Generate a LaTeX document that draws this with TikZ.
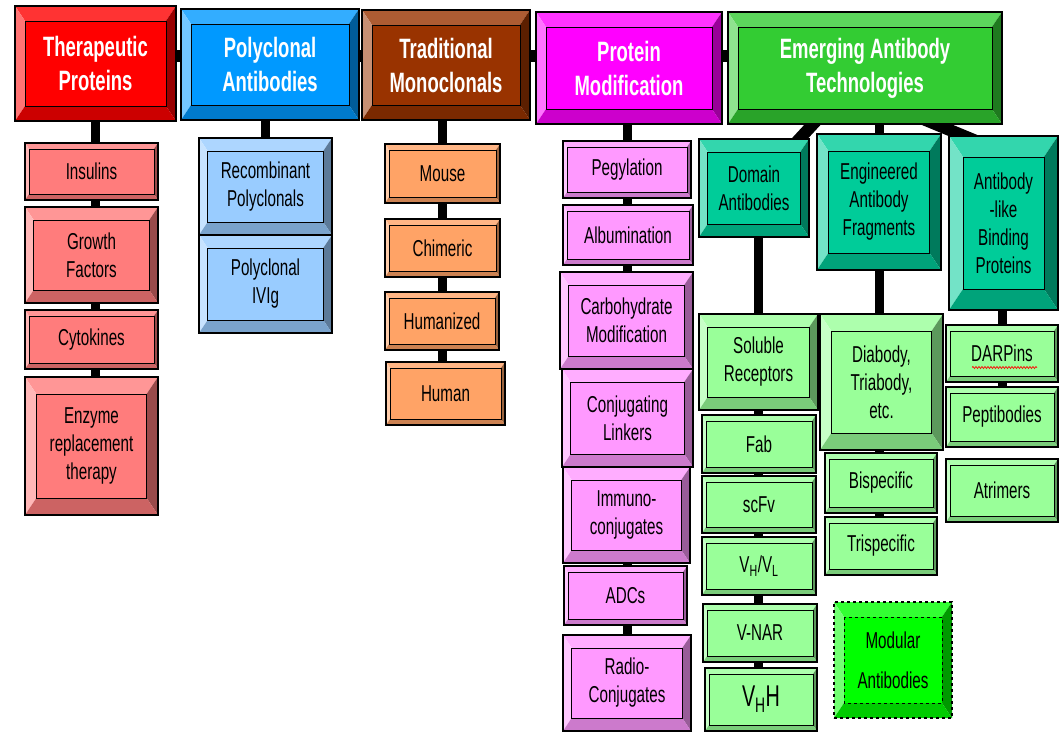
\documentclass[tikz,border=0pt]{standalone}
\usepackage{fontspec}
\setmainfont{Liberation Sans}[FakeStretch=0.66]
\usetikzlibrary{decorations.pathmorphing}
\pgfdeclarelayer{background}
\pgfsetlayers{background,main}
\definecolor{cRed}{HTML}{FF0000}
\definecolor{cRedL}{HTML}{FF7C7C}
\definecolor{cBlue}{HTML}{0099FF}
\definecolor{cBlueL}{HTML}{99CCFF}
\definecolor{cBrown}{HTML}{993300}
\definecolor{cOrL}{HTML}{FFA366}
\definecolor{cMag}{HTML}{FF00FF}
\definecolor{cMagL}{HTML}{FF99FF}
\definecolor{cGreen}{HTML}{33CC33}
\definecolor{cTeal}{HTML}{00CC99}
\definecolor{cGrL}{HTML}{99FF99}
\definecolor{cBright}{HTML}{00FF00}
\tikzset{
  conn/.style={line width=9pt, draw=black},
  hdrtxt/.style={font=\fontsize{28}{34}\selectfont\bfseries, text=white},
  subtxt/.style={font=\fontsize{23}{28}\selectfont, text=black},
  innerb/.style={draw=black, line width=0.8pt},
}
\newcommand\bbox[9]{%
  \pgfmathsetmacro\bbx{0.67*#6}%
  \fill[#7!80!white] (#2,#3) -- (#4,#3) -- ({#4-\bbx},{#3+#6}) -- ({#2+\bbx},{#3+#6}) -- cycle;
  \fill[#7!55!white] (#2,#3) -- ({#2+\bbx},{#3+#6}) -- ({#2+\bbx},{#5-#6}) -- (#2,#5) -- cycle;
  \fill[#7!60!black] (#4,#3) -- (#4,#5) -- ({#4-\bbx},{#5-#6}) -- ({#4-\bbx},{#3+#6}) -- cycle;
  \fill[#7!80!black] (#2,#5) -- (#4,#5) -- ({#4-\bbx},{#5-#6}) -- ({#2+\bbx},{#5-#6}) -- cycle;
  \path[innerb, fill=#7] ({#2+\bbx},{#3+#6}) rectangle ({#4-\bbx},{#5-#6});
  \node[draw=black, line width=1.2pt, inner sep=0pt, align=center,
        minimum width={(#4-#2)*1pt}, minimum height={(#5-#3)*1pt}, #8]
        (#1) at ({(#2+#4)/2},{(#3+#5)/2}) {#9};
}
\begin{document}
\begin{tikzpicture}[x=1pt,y=-1pt]
\useasboundingbox (0,0) rectangle (1059,732);
% headers
\bbox{hdr1}{15}{6}{176}{121}{15}{cRed}{hdrtxt}{Therapeutic\\Proteins}
\bbox{hdr2}{181}{9}{359}{120}{15}{cBlue}{hdrtxt}{Polyclonal\\Antibodies}
\bbox{hdr3}{362}{10}{530}{120}{15}{cBrown}{hdrtxt}{Traditional\\Monoclonals}
\bbox{hdr4}{536}{12}{722}{124}{15}{cMag}{hdrtxt}{Protein\\Modification}
\bbox{hdr5}{728}{12}{1002}{124}{15}{cGreen}{hdrtxt}{Emerging Antibody\\Technologies}
% column 1
\bbox{ins}{25}{143}{158}{200}{6}{cRedL}{subtxt}{Insulins}
\bbox{gro}{25}{207}{158}{303}{13}{cRedL}{subtxt}{Growth\\Factors}
\bbox{cyt}{25}{310}{158}{369}{6}{cRedL}{subtxt}{Cytokines}
\bbox{enz}{25}{377}{158}{515}{17}{cRedL}{subtxt}{Enzyme\\replacement\\therapy}
% column 2
\bbox{rec}{199}{138}{332}{235}{13}{cBlueL}{subtxt}{Recombinant\\Polyclonals}
\bbox{ivig}{199}{235}{332}{333}{13}{cBlueL}{subtxt}{Polyclonal\\IVIg}
% column 3
\bbox{mouse}{385}{144}{500}{203}{6}{cOrL}{subtxt}{Mouse}
\bbox{chim}{385}{219}{500}{277}{6}{cOrL}{subtxt}{Chimeric}
\bbox{hum}{385}{292}{499}{350}{6}{cOrL}{subtxt}{Humanized}
\bbox{human}{386}{362}{505}{425}{6}{cOrL}{subtxt}{Human}
% column 4
\bbox{peg}{563}{141}{691}{198}{6}{cMagL}{subtxt}{Pegylation}
\bbox{alb}{563}{205}{693}{265}{6}{cMagL}{subtxt}{Albumination}
\bbox{carb}{560}{272}{693}{369}{13}{cMagL}{subtxt}{Carbohydrate\\Modification}
\bbox{conj}{562}{369}{693}{467}{13}{cMagL}{subtxt}{Conjugating\\Linkers}
\bbox{immu}{563}{467}{690}{563}{13}{cMagL}{subtxt}{Immuno-\\conjugates}
\bbox{adc}{564}{566}{687}{625}{6}{cMagL}{subtxt}{ADCs}
\bbox{radio}{563}{635}{691}{731}{13}{cMagL}{subtxt}{Radio-\\Conjugates}
% emerging sub-headers
\bbox{dom}{699}{139}{809}{237}{13}{cTeal}{subtxt}{Domain\\Antibodies}
\bbox{eng}{817}{134}{941}{270}{17}{cTeal}{subtxt}{Engineered\\Antibody\\Fragments}
\bbox{abp}{949}{136}{1058}{310}{21}{cTeal}{subtxt}{Antibody\\-like\\Binding\\Proteins}
% domain column
\bbox{sol}{699}{314}{818}{410}{13}{cGrL}{subtxt}{Soluble\\Receptors}
\bbox{fab}{702}{415}{816}{473}{6}{cGrL}{subtxt}{Fab}
\bbox{scfv}{702}{476}{816}{533}{6}{cGrL}{subtxt}{scFv}
\bbox{vhvl}{702}{537}{816}{595}{6}{cGrL}{subtxt}{V\textsubscript{H}/V\textsubscript{L}}
\bbox{vnar}{703}{604}{817}{662}{6}{cGrL}{subtxt}{V-NAR}
\bbox{vh}{705}{668}{817}{731}{6}{cGrL}{subtxt, font=\fontsize{30}{34}\selectfont}{V\textsubscript{H}H}
% engineered column
\bbox{dia}{820}{314}{943}{450}{17}{cGrL}{subtxt}{Diabody,\\Triabody,\\etc.}
\bbox{bis}{825}{453}{937}{513}{6}{cGrL}{subtxt}{Bispecific}
\bbox{tri}{825}{517}{937}{575}{6}{cGrL}{subtxt}{Trispecific}
% antibody-like column
\bbox{darp}{946}{325}{1058}{382}{6}{cGrL}{subtxt}{DARPins}
\bbox{pept}{946}{387}{1058}{447}{6}{cGrL}{subtxt}{Peptibodies}
\bbox{atri}{946}{459}{1058}{522}{6}{cGrL}{subtxt}{Atrimers}
% modular
\begin{scope}[innerb/.style={draw=black, line width=0.8pt, dashed}]
\bbox{modu}{834}{602}{952}{718}{15}{cBright}{subtxt, dashed}{Modular\\[12pt]Antibodies}
\end{scope}
% spell-check squiggle
\draw[red, line width=0.7pt, decorate, decoration={snake, amplitude=1pt, segment length=3pt}]
  ([xshift=-30pt,yshift=-14pt]darp.center) -- ([xshift=35pt,yshift=-14pt]darp.center);
% connectors
\coordinate (hl) at (20,56);
\coordinate (hr) at (1000,56);
\coordinate (rj) at (800,68);
\coordinate (rk) at (1010,155);
\begin{pgfonlayer}{background}
\fill[white] (0,0) rectangle (1059,732);
\draw[conn, line width=12pt] (hl) -- (hr);
\draw[conn] (hdr1.center) -- (hdr1.center |- enz.center);
\draw[conn] (rec.center |- hdr2.center) -- (rec.center |- ivig.center);
\draw[conn] (mouse.center |- hdr3.center) -- (mouse.center |- human.center);
\draw[conn] (peg.center |- hdr4.center) -- (peg.center |- radio.center);
\draw[conn, line width=12pt] (hdr5.center) -- (dom.center);
\draw[conn] (eng.center |- hdr5.center) -- (eng.center |- tri.center);
\draw[conn, line width=12pt] (rj) -- (rk);
\draw[conn] (sol.center |- dom.center) -- (sol.center |- vh.center);
\draw[conn] (darp.center |- abp.center) -- (pept.center);
\end{pgfonlayer}
\end{tikzpicture}
\end{document}
